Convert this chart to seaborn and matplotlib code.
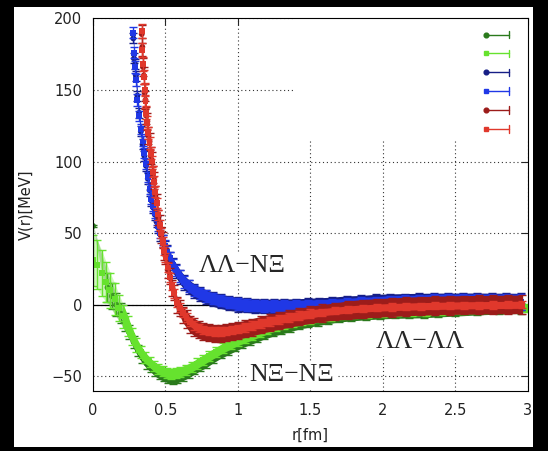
import numpy as np
import pandas as pd
import matplotlib
matplotlib.use("Agg")
import matplotlib.pyplot as plt
import seaborn as sns
from matplotlib.lines import Line2D
from matplotlib.patches import Rectangle
from matplotlib.legend_handler import HandlerBase
from matplotlib.ticker import FormatStrFormatter

# --- data ------------------------------------------------------------------
# N Xi - N Xi (light green squares)
r_nx = [0.00, 0.03, 0.06, 0.09, 0.12, 0.15, 0.18, 0.21, 0.24, 0.27, 0.30,
        0.33, 0.36, 0.39, 0.42, 0.45, 0.48, 0.51, 0.54, 0.57, 0.60,
        0.64, 0.68, 0.72, 0.76, 0.80,
        0.85, 0.90, 0.95, 1.00, 1.05, 1.10, 1.15, 1.20,
        1.26, 1.32, 1.38, 1.44, 1.50,
        1.57, 1.64, 1.72, 1.80,
        1.90, 2.00, 2.10, 2.20, 2.30, 2.40,
        2.55, 2.70, 2.85, 3.00]
v_nx = [31, 28, 22, 16, 10, 4, -2, -8, -15, -22, -28,
        -33, -37, -40, -43, -45, -46.5, -47.5, -48, -47.8, -47,
        -45.5, -43.5, -41, -38.5, -36,
        -33, -30, -27.5, -25, -23, -21, -19, -17,
        -15.3, -13.8, -12.5, -11.3, -10.2,
        -9.0, -8.0, -7.2, -6.5,
        -5.9, -5.4, -5.1, -4.9, -4.6, -4.2,
        -3.6, -3.0, -2.6, -2.2]
e_nx = [18, 17, 16, 14, 12, 11, 9, 8, 7, 6, 5,
        4.5, 4, 3.5, 3.5, 3.5, 3.5, 3.5, 3.5, 3.5, 3.5,
        3.5, 3.5, 3.5, 3.5, 3.5,
        3.5, 3.5, 3.5, 3.5, 3.5, 3.5, 3.5, 3.5,
        3, 3, 3, 3, 3,
        3, 3, 3, 3,
        3, 3, 3, 3, 3, 3,
        3, 3, 3, 3]

# N Xi - N Xi (dark green circles)
r_nx2 = [0.00, 0.10, 0.13, 0.16, 0.19, 0.22, 0.25, 0.28, 0.31, 0.34, 0.37,
         0.40, 0.43, 0.46, 0.49, 0.52, 0.55, 0.58,
         0.62, 0.66, 0.70, 0.74, 0.78,
         0.83, 0.88, 0.93, 0.98, 1.03, 1.08, 1.13, 1.18,
         1.24, 1.30, 1.36, 1.42, 1.48,
         1.55, 1.62, 1.70, 1.78,
         1.88, 1.98, 2.08, 2.18, 2.28, 2.38,
         2.50, 2.65, 2.80, 2.95]
v_nx2 = [55, 12, 6, 0, -6, -12, -19, -26, -32, -37, -41,
         -44, -47, -49, -50.5, -51.5, -52, -51.5,
         -50, -48, -45.5, -43, -40.5,
         -37, -34, -31, -28.5, -26, -24, -22, -20,
         -18, -16.3, -14.8, -13.5, -12.3,
         -11.0, -9.8, -8.5, -7.8,
         -7.0, -6.4, -6.0, -5.8, -5.6, -5.0,
         -4.4, -3.6, -3.0, -2.6]
e_nx2 = [0.8, 10, 9, 8, 7, 6, 5, 4.5, 4, 3.5, 3.5,
         3, 3, 3, 3, 3, 3, 3,
         3, 3, 3, 3, 3.5,
         3.5, 3.5, 4, 4, 4, 4, 4, 4,
         4, 4, 4, 3.5, 3.5,
         3.5, 3.5, 3.5, 3.5,
         3.5, 3.5, 3.5, 3.5, 3.5, 3.5,
         3.5, 3.5, 3.5, 3.5]

# Lambda Lambda - N Xi (blue squares / dark blue circles)
r_b = [0.278, 0.283, 0.290, 0.296, 0.306, 0.318, 0.330, 0.342, 0.354, 0.366,
       0.378, 0.390, 0.402, 0.414, 0.426, 0.438, 0.450,
       0.465, 0.480, 0.495, 0.510, 0.530, 0.550, 0.575, 0.600,
       0.630, 0.660, 0.700, 0.740, 0.780,
       0.830, 0.880, 0.940, 1.000, 1.060, 1.120, 1.180,
       1.250, 1.320, 1.400, 1.480, 1.560,
       1.650, 1.750, 1.850, 1.950, 2.050, 2.150, 2.250, 2.350, 2.450, 2.550,
       2.650, 2.750, 2.850, 2.950]
v_b = [190, 176, 166, 157, 143, 132, 123, 114, 106, 98,
       89, 81, 74, 69, 64, 59.5, 55,
       50, 45.5, 41, 37, 32.5, 28, 24, 20,
       16, 13, 10, 7.8, 6,
       4.2, 2.8, 1.5, 0.5, -0.3, -0.7, -0.9,
       -1.0, -1.0, -0.9, -0.7, -0.4,
       0.0, 0.4, 0.8, 1.1, 1.4, 1.6, 1.8, 1.9, 2.0, 2.0,
       2.0, 2.0, 2.0, 2.0]
e_b = [4, 4, 4, 4, 4, 3.5, 3.5, 3.5, 3.5, 3.5,
       3.5, 3.5, 3.5, 3.5, 3.5, 3.5, 3.5,
       3.5, 3.5, 4, 4, 4, 4, 4, 4,
       4, 4, 4, 4, 4,
       4, 4, 4, 4, 4, 4, 4,
       4, 4, 4, 4, 4,
       4, 4, 4.5, 4.5, 5, 5, 5, 5.5, 5.5, 5.5,
       5.5, 5.5, 5.5, 5.5]
v_db = [186, 172, 168, 160, 146, 134, 121, 112, 104, 97,
        88, 80, 73, 68, 63, 58, 54,
        49, 44.5, 40, 36.5, 32, 27.5, 23.5, 19.5,
        15.5, 12.5, 9.5, 7.3, 5.5,
        3.8, 2.4, 1.1, 0.2, -0.4, -0.8, -1.0,
        -1.1, -1.0, -0.8, -0.5, -0.1,
        0.3, 0.7, 1.0, 1.3, 1.6, 1.8, 2.0, 2.1, 2.2, 2.2,
        2.2, 2.1, 2.1, 2.0]
e_db = [3.5, 3.5, 3.5, 3.5, 3.5, 3.5, 3.5, 3.5, 3.5, 3.5,
        4, 4, 4, 4, 4, 4, 4,
        4.5, 4.5, 4.5, 5, 5, 5, 5, 5,
        5, 5, 5, 5, 5,
        5, 5, 5, 5, 5, 5, 5,
        5, 5, 5, 5, 5,
        5, 5.5, 5.5, 6, 6, 6, 6, 6, 6, 6,
        6, 6, 6, 6]

# Lambda Lambda - Lambda Lambda (red squares / dark red circles)
r_r = [0.336, 0.340, 0.345, 0.350, 0.356, 0.362, 0.368, 0.375, 0.382, 0.390,
       0.398, 0.406, 0.414, 0.422, 0.430, 0.440, 0.450,
       0.460, 0.470, 0.480, 0.490, 0.500, 0.515, 0.530, 0.545, 0.560,
       0.580, 0.600, 0.620, 0.645, 0.670, 0.700, 0.730, 0.760,
       0.800, 0.840, 0.880, 0.920, 0.960, 1.000,
       1.050, 1.100, 1.160, 1.220, 1.280, 1.350, 1.420, 1.500,
       1.580, 1.670, 1.760, 1.860, 1.960, 2.060, 2.160, 2.260, 2.360, 2.460,
       2.560, 2.660, 2.760, 2.860, 2.960]
v_r = [191, 178, 168, 159, 150, 142, 134, 127, 120, 113,
       106, 100, 93, 86, 79, 71, 63,
       56, 50, 44, 38, 33, 26, 19, 13, 8,
       1.5, -2, -5.5, -9, -12, -14.5, -16.3, -17.5,
       -18.3, -18.7, -18.7, -18.3, -17.6, -16.8,
       -15.7, -14.5, -13, -11.6, -10.3, -8.9, -7.6, -6.3,
       -5.2, -4.2, -3.3, -2.6, -2.0, -1.6, -1.3, -1.0, -0.8, -0.6,
       -0.4, -0.3, -0.2, -0.1, 0.0]
e_r = [5, 5, 5, 5, 4.5, 4.5, 4.5, 4.5, 4, 4,
       4, 4, 4, 4, 4, 3.5, 3.5,
       3.5, 3.5, 3.5, 3.5, 3, 3, 3, 3, 3,
       3, 3, 3, 3, 3, 3, 3, 3,
       3, 3, 3, 3, 3, 3,
       3, 3, 3, 3, 3, 3, 3, 3,
       2.5, 2.5, 2.5, 2.5, 2.5, 2.5, 2.5, 2.5, 2.5, 2.5,
       2.5, 2.5, 2.5, 2.5, 2.5]
v_dr = [189, 180, 166, 160, 148, 143, 132, 128, 118, 114,
        104, 101, 91, 87, 77, 72, 61,
        57, 48.5, 45, 36.5, 34, 24.5, 20, 11.5, 8.5,
        0, -2.5, -7, -10, -13.5, -15.5, -17.5, -18.7,
        -19.5, -20, -19.8, -19.4, -18.8, -18,
        -16.8, -15.6, -14, -12.5, -11.2, -9.8, -8.4, -7,
        -5.8, -4.7, -3.7, -2.9, -2.2, -1.7, -1.2, -0.8, -0.5, -0.3,
        -0.1, 0.0, 0.1, 0.2, 0.3]
e_dr = [6, 6, 6, 6, 6, 6, 6, 6, 6, 6,
        6, 6, 6, 6, 6, 5.5, 5.5,
        5.5, 5.5, 5.5, 5.5, 5.5, 5.5, 5.5, 5.5, 5.5,
        5.5, 5.5, 5.5, 6, 6, 6, 6, 6,
        6, 6, 6, 6, 6, 6,
        6, 6, 6, 6, 6, 6, 6, 6,
        6, 6, 6.5, 6.5, 6.5, 6.5, 6.5, 6.5, 6.5, 6.5,
        6.5, 6.5, 6.5, 6.5, 6.5]

key_labels = ["", "", "", "", "", ""]

# --- styling ---------------------------------------------------------------
sns.set_style("white")
plt.rcParams["font.family"] = ["DejaVu Sans"]
serif = ["Liberation Serif", "DejaVu Serif"]

c_dg, c_lg = "#2a7a1c", "#66e22e"
c_db, c_b = "#161e86", "#2038e6"
c_dr, c_r = "#9c1c1a", "#e0382c"

# (r, V, err, colour, marker, band starts at r >=)
series = [
    (r_nx2, v_nx2, e_nx2, c_dg, "o", 0.2),
    (r_nx, v_nx, e_nx, c_lg, "s", 0.2),
    (r_b, v_db, e_db, c_db, "o", 0.0),
    (r_b, v_b, e_b, c_b, "s", 0.0),
    (r_r, v_dr, e_dr, c_dr, "o", 0.0),
    (r_r, v_r, e_r, c_r, "s", 0.0),
]


class KeyHandler(HandlerBase):
    # gnuplot style key sample: dot on the left, bar with end tick on the right
    def create_artists(self, legend, orig_handle, xdescent, ydescent,
                       width, height, fontsize, trans):
        c = orig_handle.get_color()
        m = orig_handle.get_marker()
        y = height / 2 - ydescent
        x0, x1 = -xdescent, width - xdescent
        bar = Line2D([x0, x1], [y, y], color=c, lw=1.0)
        tick = Line2D([x1, x1], [y - height * 0.3, y + height * 0.3], color=c, lw=1.0)
        dot = Line2D([x0], [y], color=c, marker=m, ms=3.4, ls="none")
        for a in (bar, tick, dot):
            a.set_transform(trans)
        return [bar, tick, dot]


fig = plt.figure(figsize=(5.48, 4.51), dpi=100, facecolor="black")
fig.patches.append(Rectangle((14 / 548, 4 / 451), 519 / 548, 440 / 451,
                             transform=fig.transFigure, facecolor="white",
                             edgecolor="none", zorder=-5))
ax = fig.add_axes([0.1697, 0.1337, 0.7938, 0.8257])
ax.set_zorder(1)
ax.set_facecolor("white")

for i, (r, v, e, c, m, rmin) in enumerate(series):
    df = pd.DataFrame({"r": r, "V": v, "err": e})
    z = 2 + i * 0.1
    band = df["r"] >= rmin
    ax.fill_between(df["r"], df["V"] - df["err"], df["V"] + df["err"],
                    where=band, color=c, lw=0, zorder=z)
    if rmin > 0:
        # sparse, wide bars close to r = 0 look half filled
        ax.fill_between(df["r"], df["V"] - df["err"], df["V"] + df["err"],
                        where=df["r"] <= rmin + 0.05, color=c, alpha=0.3,
                        lw=0, zorder=z)
    ax.errorbar(df["r"], df["V"], yerr=df["err"], fmt="none", ecolor=c,
                elinewidth=1.0, capsize=2.6, capthick=1.0, zorder=z)
    sns.scatterplot(data=df, x="r", y="V", marker=m, s=18, color=c,
                    edgecolor="none", ax=ax, zorder=z, legend=False)

ax.axhline(0, color="black", lw=0.9, zorder=1.5)

ax.set_xlim(0, 3)
ax.set_ylim(-60, 200)
ax.set_xticks([0, 0.5, 1, 1.5, 2, 2.5, 3])
ax.set_yticks([-50, 0, 50, 100, 150, 200])
ax.xaxis.set_major_formatter(FormatStrFormatter("%g"))
ax.set_axisbelow(True)
ax.grid(True, color="#333333", linestyle=(0, (1, 2.5)), linewidth=0.8)
ax.tick_params(direction="in", length=5, width=0.8, top=True, right=True,
               labelsize=10.5, labelcolor="#222222")
ax.tick_params(axis="x", pad=8.8)
ax.tick_params(axis="y", pad=7.9)
for s in ax.spines.values():
    s.set_color("black")
    s.set_linewidth(0.8)

ax.set_xlabel("r[fm]", fontsize=10.5, color="#222222", labelpad=7)
ax.set_ylabel("V(r)[MeV]", fontsize=10.5, color="#222222", labelpad=13)

# white box behind the key (hides the grid there)
ax.add_patch(Rectangle((0.464, 0.673), 0.536, 0.327, transform=ax.transAxes,
                       facecolor="white", edgecolor="none", zorder=1))
handles = [Line2D([], [], color=c, marker=m) for (_, _, _, c, m, _) in series]
ax.legend(handles, key_labels, handler_map={Line2D: KeyHandler()},
          loc="upper left", bbox_to_anchor=(0.9034, 0.973), frameon=False,
          borderpad=0, borderaxespad=0, handlelength=1.66, handleheight=1.0,
          labelspacing=0.35, handletextpad=0, fontsize=10)

box = dict(facecolor="white", edgecolor="none", pad=1.5)
ax.text(1.03, 23, "ΛΛ−NΞ", ha="center", va="baseline", fontsize=18.5,
        family=serif, bbox=box, zorder=4)
ax.text(1.372, -53, "NΞ−NΞ", ha="center", va="baseline", fontsize=18.5,
        family=serif, bbox=box, zorder=4)
ax.text(2.257, -30.5, "ΛΛ−ΛΛ", ha="center", va="baseline", fontsize=18.5,
        family=serif, bbox=box, zorder=4)

fig.savefig("out.png", dpi=100, facecolor=fig.get_facecolor())
